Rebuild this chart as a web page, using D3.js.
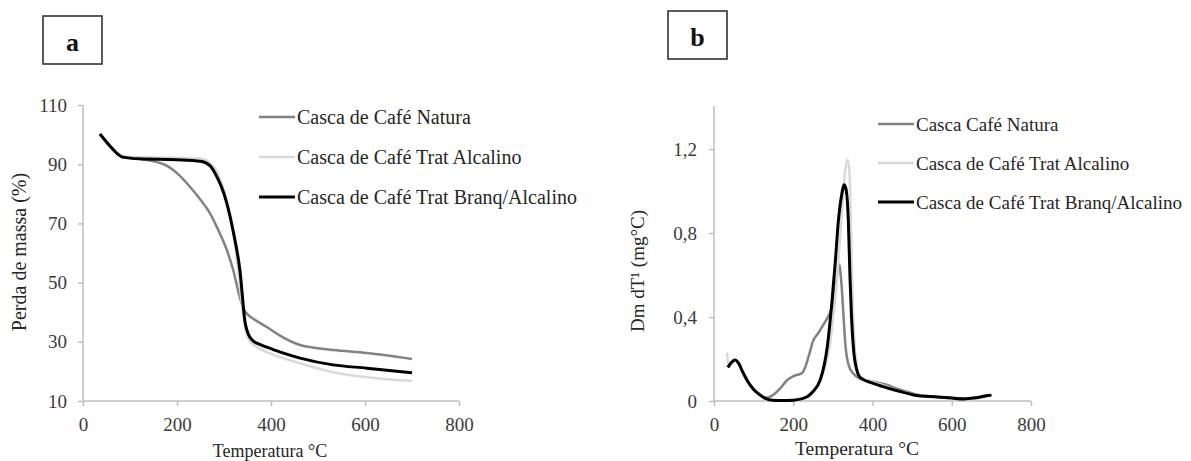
<!DOCTYPE html>
<html>
<head>
<meta charset="utf-8">
<script src="https://cdn.jsdelivr.net/npm/d3@7"></script>
<style>
  html, body { margin: 0; padding: 0; background: #fff; }
  svg { display: block; font-family: "Liberation Serif", "Times New Roman", serif; }
  .axis path, .axis line { stroke: #bfbfbf; stroke-width: 1.5px; }
  .axis text { fill: #3a3a3a; }
</style>
</head>
<body>
<svg id="chart" width="1191" height="461"></svg>
<script>
// Series names (legend labels)
const tgaNames = ["Casca de Café Natura", "Casca de Café Trat Alcalino", "Casca de Café Trat Branq/Alcalino"];
const dtgNames = ["Casca Café Natura", "Casca de Café Trat Alcalino", "Casca de Café Trat Branq/Alcalino"];
const seriesColors = ["#828282", "#d9d9d9", "#000000"];
const seriesWidths = [2.5, 2.5, 3];

// Axis ticks
const tgaXTicks = [0, 200, 400, 600, 800];
const tgaYTicks = [10, 30, 50, 70, 90, 110];
const dtgXTicks = [0, 200, 400, 600, 800];
const dtgYTicks = [0, 0.4, 0.8, 1.2];

// TGA – mass (%) versus temperature (°C)
const tgaTemp = {
  natura:  [36, 50, 70, 85, 120, 150, 178, 200, 228, 250, 270, 290, 306, 320, 332, 342, 352, 365, 391, 420, 462, 500, 532, 604, 700],
  alcalino:[36, 50, 70, 85, 150, 250, 270, 285, 300, 315, 328, 338, 346, 356, 370, 390, 420, 460, 530, 600, 700],
  branq:   [36, 50, 70, 85, 120, 200, 250, 270, 285, 300, 319, 334, 345, 352, 360, 375, 391, 420, 462, 532, 604, 700]
};
const tgaMass = {
  natura:  [100.2, 97.5, 94, 92.4, 91.8, 91, 89.5, 87, 82.3, 78, 73.5, 67, 61, 54, 46, 41, 39, 37.5, 35, 32, 28.9, 27.8, 27.2, 26.2, 24.2],
  alcalino:[100.2, 97.5, 94, 92.6, 92.3, 91.9, 90.5, 87.5, 81, 71, 57, 43, 34, 30, 28.2, 26.6, 24.8, 22.8, 19.8, 18.1, 16.8],
  branq:   [100.2, 97.5, 94, 92.4, 91.8, 91.5, 91, 89.5, 85.7, 80, 67.8, 54, 36.4, 32.5, 30.6, 29.2, 28.2, 26.5, 24.5, 22.2, 21.1, 19.5]
};

// DTG – derivative mass loss versus temperature (°C)
const dtgTemp = {
  natura:  [35, 45, 53, 62, 72, 83, 100, 116, 130, 150, 167, 185, 197, 210, 220, 230, 240, 251, 262, 275, 290, 300, 308, 316, 322, 327, 332, 340, 352, 365, 380, 410, 438, 460, 488, 520, 560, 600, 650, 690, 700],
  alcalino:[33, 36, 42, 53, 62, 72, 83, 100, 116, 130, 142, 170, 200, 220, 235, 250, 268, 282, 292, 302, 312, 322, 330, 337, 342, 346, 350, 355, 362, 372, 400, 440, 470, 504, 564, 600, 630, 660, 690, 700],
  branq:   [35, 45, 53, 62, 72, 83, 100, 116, 130, 142, 170, 200, 220, 235, 250, 268, 278, 286, 298, 306, 314, 322, 329, 334, 339, 343, 347, 352, 360, 370, 400, 438, 470, 504, 564, 600, 630, 660, 690, 700]
};
const dtgRate = {
  natura:  [0.16, 0.185, 0.195, 0.18, 0.14, 0.1, 0.055, 0.029, 0.015, 0.03, 0.06, 0.1, 0.115, 0.125, 0.13, 0.16, 0.22, 0.29, 0.32, 0.36, 0.41, 0.46, 0.56, 0.65, 0.55, 0.4, 0.26, 0.17, 0.13, 0.11, 0.1, 0.09, 0.076, 0.06, 0.043, 0.028, 0.02, 0.014, 0.013, 0.024, 0.028],
  alcalino:[0.23, 0.17, 0.18, 0.195, 0.18, 0.14, 0.1, 0.055, 0.029, 0.012, 0.005, 0.002, 0.004, 0.01, 0.02, 0.045, 0.1, 0.17, 0.26, 0.42, 0.62, 0.88, 1.08, 1.15, 1.08, 0.8, 0.48, 0.26, 0.15, 0.11, 0.092, 0.066, 0.048, 0.031, 0.02, 0.014, 0.01, 0.015, 0.026, 0.028],
  branq:   [0.16, 0.185, 0.195, 0.18, 0.14, 0.1, 0.055, 0.029, 0.012, 0.005, 0.002, 0.004, 0.01, 0.02, 0.045, 0.1, 0.17, 0.26, 0.48, 0.66, 0.86, 0.98, 1.03, 1.0, 0.86, 0.6, 0.4, 0.25, 0.15, 0.11, 0.085, 0.062, 0.045, 0.029, 0.019, 0.014, 0.01, 0.015, 0.026, 0.028]
};

const keys = ["natura", "alcalino", "branq"];
const svg = d3.select("#chart");

function drawPanel(cfg) {
  const x = d3.scaleLinear().domain(cfg.xDomain).range(cfg.xRange);
  const y = d3.scaleLinear().domain(cfg.yDomain).range(cfg.yRange);

  // axes
  const gx = svg.append("g").attr("class", "axis")
    .attr("transform", `translate(0,${cfg.yRange[0]})`)
    .call(d3.axisBottom(x).tickValues(cfg.xTicks).tickSize(5).tickPadding(12).tickSizeOuter(0));
  const gy = svg.append("g").attr("class", "axis")
    .attr("transform", `translate(${cfg.xRange[0]},0)`)
    .call(d3.axisLeft(y).tickValues(cfg.yTicks).tickSize(5).tickPadding(cfg.yPad)
      .tickFormat(cfg.yFormat).tickSizeOuter(0));
  [gx, gy].forEach(g => g.selectAll("text")
    .style("font-family", '"Liberation Serif", serif').style("font-size", "19px"));
  gx.select(".domain").attr("d", `M${cfg.xRange[0]},0H${cfg.xRange[1]}`);
  gy.select(".domain").attr("d", `M0,${cfg.yRange[0]}V${cfg.yTop}`);

  // series
  const line = d3.line().x(d => x(d[0])).y(d => y(d[1])).curve(d3.curveMonotoneX);
  keys.forEach((k, i) => {
    const pts = cfg.temp[k].map((t, j) => [t, cfg.vals[k][j]]);
    svg.append("path").datum(pts)
      .attr("d", line)
      .attr("fill", "none")
      .attr("stroke", seriesColors[i])
      .attr("stroke-width", seriesWidths[i])
      .attr("stroke-linejoin", "round");
  });

  // axis titles
  svg.append("text")
    .attr("x", cfg.xTitle[0]).attr("y", cfg.xTitle[1])
    .attr("text-anchor", "middle")
    .style("font-size", cfg.xTitle[2] + "px").attr("fill", "#262626")
    .text("Temperatura °C");
  svg.append("text")
    .attr("transform", `translate(${cfg.yTitle[0]},${cfg.yTitle[1]}) rotate(-90)`)
    .attr("text-anchor", "middle")
    .style("font-size", cfg.yTitle[2] + "px").attr("fill", "#262626")
    .text(cfg.yTitleText);

  // legend
  cfg.names.forEach((n, i) => {
    const ly = cfg.legend.y0 + i * cfg.legend.dy;
    svg.append("line")
      .attr("x1", cfg.legend.x).attr("x2", cfg.legend.x + 36)
      .attr("y1", ly).attr("y2", ly)
      .attr("stroke", seriesColors[i]).attr("stroke-width", seriesWidths[i]);
    svg.append("text")
      .attr("x", cfg.legend.x + 38).attr("y", ly + 6.5)
      .style("font-size", cfg.legend.size + "px").attr("fill", "#262626")
      .text(n);
  });

  // panel tag
  svg.append("rect")
    .attr("x", cfg.tag.x).attr("y", cfg.tag.y).attr("width", 59).attr("height", 48)
    .attr("fill", "#fff").attr("stroke", "#333").attr("stroke-width", 1.6);
  svg.append("text")
    .attr("x", cfg.tag.x + 29.5).attr("y", cfg.tag.y + 35)
    .attr("text-anchor", "middle")
    .style("font-size", "26px").style("font-weight", "bold").attr("fill", "#111")
    .text(cfg.tag.label);
}

drawPanel({
  xDomain: [0, 800], xRange: [83, 459],
  yDomain: [10, 110], yRange: [401, 105], yTop: 105,
  xTicks: tgaXTicks, yTicks: tgaYTicks, yPad: 11,
  yFormat: d3.format("d"),
  temp: tgaTemp, vals: tgaMass,
  xTitle: [270, 457, 18],
  yTitle: [26, 252, 20], yTitleText: "Perda de massa (%)",
  names: tgaNames,
  legend: { x: 259, y0: 117, dy: 40, size: 20 },
  tag: { x: 43, y: 16, label: "a" }
});

drawPanel({
  xDomain: [0, 800], xRange: [714, 1031],
  yDomain: [0, 1.4], yRange: [401, 107], yTop: 106,
  xTicks: dtgXTicks, yTicks: dtgYTicks, yPad: 12,
  yFormat: d => d === 0 ? "0" : d3.format(".1f")(d).replace(".", ","),
  temp: dtgTemp, vals: dtgRate,
  xTitle: [857, 455, 19.5],
  yTitle: [644, 271, 19], yTitleText: "Dm dT¹ (mg°C)",
  names: dtgNames,
  legend: { x: 878, y0: 124, dy: 39, size: 19 },
  tag: { x: 668, y: 11, label: "b" }
});
</script>
</body>
</html>
